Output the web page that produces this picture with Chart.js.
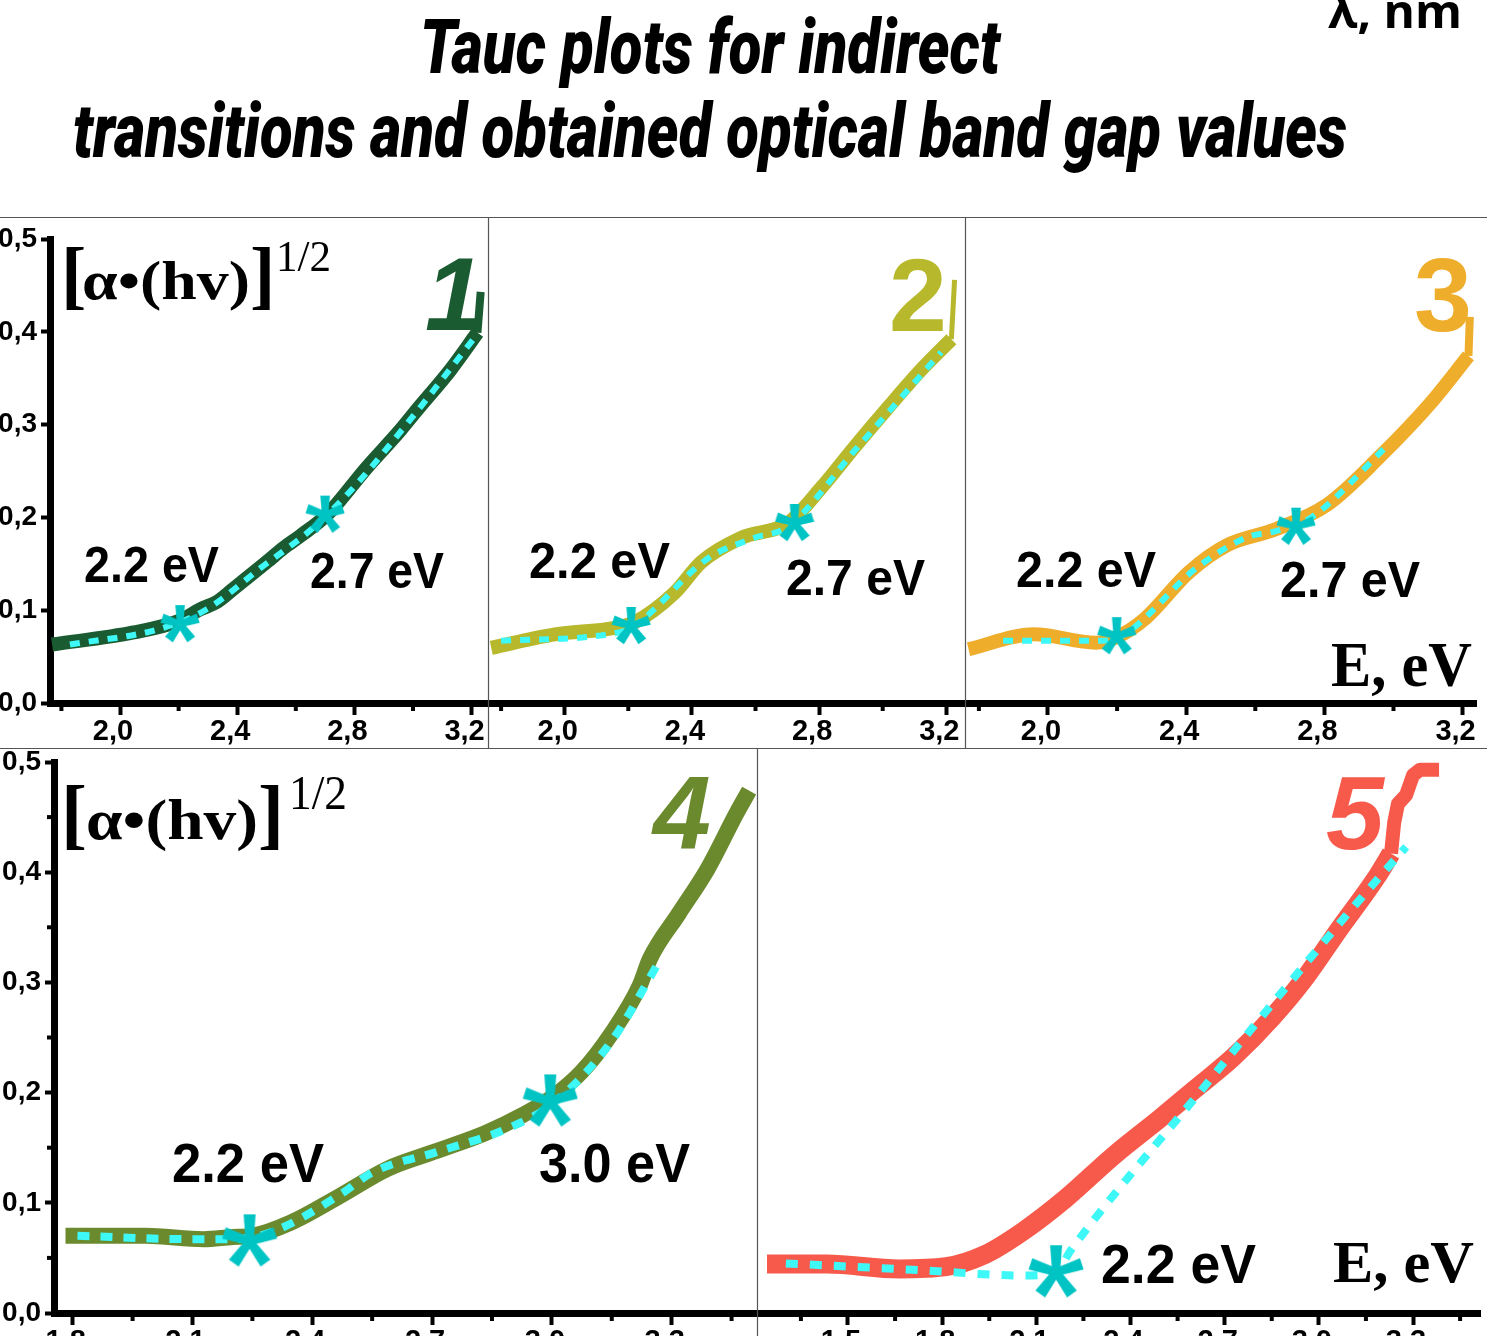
<!DOCTYPE html>
<html><head><meta charset="utf-8">
<script src="https://cdn.jsdelivr.net/npm/chart.js@4.4.1/dist/chart.umd.min.js"></script>
<style>
html,body{margin:0;padding:0;background:#fff;overflow:hidden;width:1505px;height:1336px;}
#wrap{position:relative;width:1505px;height:1336px;overflow:hidden;background:#fff;}
canvas{position:absolute;}
#ov{position:absolute;left:0;top:0;pointer-events:none;}
</style></head><body>
<div id="wrap">
<canvas id="c1"></canvas><canvas id="c2"></canvas><canvas id="c3"></canvas><canvas id="c4"></canvas><canvas id="c5"></canvas>
<svg id="ov" width="1505" height="1336" xmlns="http://www.w3.org/2000/svg">
 <g stroke="#555" stroke-width="1.2">
  <line x1="0" y1="217.5" x2="1487" y2="217.5"/>
  <line x1="488.5" y1="217" x2="488.5" y2="748"/>
  <line x1="965.5" y1="217" x2="965.5" y2="748"/>
  <line x1="0" y1="748.5" x2="1487" y2="748.5"/>
  <line x1="757.5" y1="748" x2="757.5" y2="1336"/>
 </g>
 <g font-family="Roboto, sans-serif" font-weight="900" font-style="italic" font-size="75" fill="#000">
  <text x="420" y="73" textLength="580" lengthAdjust="spacingAndGlyphs">Tauc plots for indirect</text>
  <text x="73" y="157" textLength="1274" lengthAdjust="spacingAndGlyphs">transitions and obtained optical band gap values</text>
 </g>
 <text x="1328" y="28" font-family="Open Sans, sans-serif" font-weight="700" font-size="46" textLength="134" lengthAdjust="spacingAndGlyphs">λ, nm</text>
 <g font-family="Liberation Serif, serif" font-weight="700" fill="#000">
  <text x="61" y="300" font-size="76">[</text>
  <text x="82" y="299" font-size="54" textLength="168" lengthAdjust="spacingAndGlyphs">α•(hv)</text>
  <text x="250" y="300" font-size="76">]</text>
  <text x="276" y="271" font-size="44" font-weight="400" textLength="55" lengthAdjust="spacingAndGlyphs">1/2</text>
  <text x="61" y="839" font-size="78">[</text>
  <text x="86" y="839" font-size="56" textLength="172" lengthAdjust="spacingAndGlyphs">α•(hv)</text>
  <text x="258" y="839" font-size="78">]</text>
  <text x="289" y="809" font-size="48" font-weight="400" textLength="58" lengthAdjust="spacingAndGlyphs">1/2</text>
  <text x="1331" y="686" font-size="64" textLength="141" lengthAdjust="spacingAndGlyphs">E, eV</text>
  <text x="1333" y="1282" font-size="60" textLength="141" lengthAdjust="spacingAndGlyphs">E, eV</text>
 </g>
 <g font-family="Liberation Sans, Arial, sans-serif" font-weight="700" fill="#000">
  <text x="84" y="582" font-size="50" textLength="135" lengthAdjust="spacingAndGlyphs">2.2 eV</text>
  <text x="310" y="588" font-size="50" textLength="134" lengthAdjust="spacingAndGlyphs">2.7 eV</text>
  <text x="529" y="578" font-size="50" textLength="141" lengthAdjust="spacingAndGlyphs">2.2 eV</text>
  <text x="786" y="595" font-size="50" textLength="139" lengthAdjust="spacingAndGlyphs">2.7 eV</text>
  <text x="1016" y="587" font-size="50" textLength="140" lengthAdjust="spacingAndGlyphs">2.2 eV</text>
  <text x="1280" y="597" font-size="50" textLength="140" lengthAdjust="spacingAndGlyphs">2.7 eV</text>
  <text x="172" y="1182" font-size="55" textLength="152" lengthAdjust="spacingAndGlyphs">2.2 eV</text>
  <text x="539" y="1182" font-size="55" textLength="151" lengthAdjust="spacingAndGlyphs">3.0 eV</text>
  <text x="1101" y="1283" font-size="55" textLength="155" lengthAdjust="spacingAndGlyphs">2.2 eV</text>
 </g>
 <g font-family="Liberation Sans, Arial, sans-serif" font-weight="700" font-size="104">
  <text x="425" y="330" font-style="italic" fill="#1b5b31">1</text>
  <text x="889" y="331" fill="#b7b82c">2</text>
  <text x="1414" y="331" fill="#efad2c">3</text>
  <text x="653" y="849" font-style="italic" fill="#6b8a2e">4</text>
  <text x="1326" y="849" font-style="italic" fill="#f75a4b">5</text>
 </g>
</svg>
</div>
<script>
// ---------- data ----------
const yTicks = [0, 0.1, 0.2, 0.3, 0.4, 0.5];
const yMinorBottom = [0.05, 0.15, 0.25, 0.35, 0.45];
const xTicksTop = [2.0, 2.4, 2.8, 3.2];
const xMinorTop = [1.8, 2.2, 2.6, 3.0];
const xTicks4 = [1.8, 2.1, 2.4, 2.7, 3.0, 3.3];
const xMinor4 = [1.95, 2.25, 2.55, 2.85, 3.15, 3.45];
const xTicks5 = [1.5, 1.8, 2.1, 2.4, 2.7, 3.0, 3.3];
const xMinor5 = [1.35, 1.65, 1.95, 2.25, 2.55, 2.85, 3.15, 3.45];

// Sample 1
const p1CurveX = [1.768, 2.046, 2.205, 2.274, 2.331, 2.387, 2.501, 2.558, 2.615, 2.707, 2.843, 2.957, 3.014, 3.128, 3.220];
const p1CurveY = [0.063, 0.076, 0.089, 0.101, 0.109, 0.123, 0.152, 0.167, 0.180, 0.203, 0.254, 0.294, 0.316, 0.359, 0.399];
const p1TailX = [3.220, 3.231];
const p1TailY = [0.399, 0.443];
const p1FitX = [1.829, 2.137, 2.296, 2.478, 2.660, 2.785, 2.990, 3.206];
const p1FitY = [0.063, 0.080, 0.101, 0.145, 0.189, 0.228, 0.305, 0.392];
const p1GapX = [2.205, 2.700];
const p1GapY = [0.085, 0.203];

// Sample 2
const p2CurveX = [1.769, 1.969, 2.157, 2.220, 2.346, 2.430, 2.555, 2.702, 2.807, 2.912, 3.016, 3.121, 3.216];
const p2CurveY = [0.0595, 0.074, 0.081, 0.087, 0.119, 0.152, 0.178, 0.194, 0.232, 0.276, 0.318, 0.359, 0.392];
const p2TailX = [3.216, 3.226];
const p2TailY = [0.392, 0.456];
const p2FitX = [1.800, 2.136, 2.209, 2.451, 2.597, 2.702, 2.912, 3.184];
const p2FitY = [0.067, 0.074, 0.081, 0.156, 0.178, 0.190, 0.272, 0.378];
const p2GapX = [2.209, 2.723];
const p2GapY = [0.083, 0.194];

// Sample 3
const p3CurveX = [1.770, 1.959, 2.139, 2.199, 2.278, 2.408, 2.518, 2.657, 2.809, 2.959, 3.107, 3.217];
const p3CurveY = [0.058, 0.074, 0.065, 0.071, 0.090, 0.141, 0.170, 0.187, 0.214, 0.265, 0.323, 0.374];
const p3TailX = [3.217, 3.221];
const p3TailY = [0.374, 0.416];
const p3FitX = [1.870, 2.159, 2.229, 2.428, 2.579, 2.657, 2.758, 2.987];
const p3FitY = [0.067, 0.067, 0.076, 0.145, 0.179, 0.185, 0.199, 0.279];
const p3GapX = [2.199, 2.718];
const p3GapY = [0.072, 0.190];

// Sample 4
const p4CurveX = [1.782, 1.982, 2.128, 2.201, 2.249, 2.346, 2.468, 2.589, 2.711, 2.832, 2.929, 3.002, 3.075, 3.148, 3.220, 3.245, 3.317, 3.390, 3.463, 3.494];
const p4CurveY = [0.070, 0.070, 0.067, 0.069, 0.070, 0.082, 0.106, 0.131, 0.147, 0.163, 0.180, 0.196, 0.219, 0.253, 0.297, 0.321, 0.362, 0.403, 0.454, 0.474];
const p4FitX = [1.812, 2.104, 2.200, 2.298, 2.468, 2.553, 2.711, 2.893, 3.002, 3.148, 3.269];
const p4FitY = [0.070, 0.067, 0.067, 0.0735, 0.107, 0.128, 0.146, 0.168, 0.190, 0.246, 0.319];
const p4GapX = [2.243, 2.996];
const p4GapY = [0.065, 0.192];

// Sample 5
const p5CurveX = [1.242, 1.433, 1.662, 1.812, 1.936, 2.057, 2.194, 2.347, 2.500, 2.605, 2.727, 2.851, 2.956, 3.064, 3.185, 3.230];
const p5CurveY = [0.0445, 0.0445, 0.040, 0.042, 0.053, 0.074, 0.104, 0.143, 0.178, 0.203, 0.232, 0.268, 0.304, 0.348, 0.396, 0.417];
const p5TailX = [3.230, 3.240, 3.252, 3.278, 3.300, 3.322, 3.383];
const p5TailY = [0.417, 0.445, 0.462, 0.470, 0.488, 0.493, 0.493];
const p5FitX = [1.302, 1.723, 2.057, 2.163, 2.210, 2.637, 2.879, 3.109, 3.278];
const p5FitY = [0.045, 0.039, 0.034, 0.037, 0.057, 0.206, 0.290, 0.368, 0.423];
const p5GapX = [2.163];
const p5GapY = [0.037];

// ---------- helpers ----------
const pts = (xs, ys) => xs.map((x, i) => ({x: x, y: ys[i]}));
const fmt = v => Number(v).toFixed(1).replace('.', ',');
const XFONT = {family: 'Liberation Sans, Arial, sans-serif', size: 29, weight: 'bold'};
const YFONT = {family: 'Liberation Sans, Arial, sans-serif', size: 28, weight: 'bold'};

function starImg(size, lw, color) {
  const c = document.createElement('canvas');
  c.width = size; c.height = size;
  const g = c.getContext('2d');
  g.fillStyle = color;
  const cx = size / 2, cy = size / 2, r = size / 2 - 1;
  for (let k = 0; k < 5; k++) {
    const a = (-90 + 72 * k) * Math.PI / 180;
    const nx = -Math.sin(a), ny = Math.cos(a);
    const w0 = lw * 0.4, w1 = lw * 0.6;
    g.beginPath();
    g.moveTo(cx + nx * w0, cy + ny * w0);
    g.lineTo(cx + r * Math.cos(a) + nx * w1, cy + r * Math.sin(a) + ny * w1);
    g.lineTo(cx + r * Math.cos(a) - nx * w1, cy + r * Math.sin(a) - ny * w1);
    g.lineTo(cx - nx * w0, cy - ny * w0);
    g.closePath();
    g.fill();
  }
  g.beginPath(); g.arc(cx, cy, lw * 0.55, 0, Math.PI * 2); g.fill();
  return c;
}

const minorTicks = {
  id: 'minorTicks',
  afterDraw(chart, args, opts) {
    const ctx = chart.ctx, area = chart.chartArea;
    ctx.save();
    ctx.strokeStyle = '#000';
    ctx.lineWidth = 4;
    (opts.x || []).forEach(v => {
      const px = chart.scales.x.getPixelForValue(v);
      ctx.beginPath(); ctx.moveTo(px, area.bottom); ctx.lineTo(px, area.bottom + opts.xLen); ctx.stroke();
    });
    (opts.y || []).forEach(v => {
      const py = chart.scales.y.getPixelForValue(v);
      ctx.beginPath(); ctx.moveTo(area.left, py); ctx.lineTo(area.left - opts.yLen, py); ctx.stroke();
    });
    ctx.restore();
  }
};

function panel(o) {
  const cv = document.getElementById(o.id);
  const padL = o.showY ? 80 : 14, padR = 30, padT = 34, padB = 80;
  const yW = o.showY ? 60 : 0, xH = 50;
  const W = o.R - o.L + padL + padR, H = o.B - o.T + padT + padB;
  cv.width = W; cv.height = H;
  cv.style.left = (o.L - padL) + 'px';
  cv.style.top = (o.T - padT) + 'px';
  cv.style.width = W + 'px'; cv.style.height = H + 'px';
  const star = starImg(o.starSize, o.starLw, '#00c4c4');
  const datasets = [
    {data: pts(o.gx, o.gy), showLine: false, pointStyle: star, pointRadius: 10, order: 1, clip: false},
    {data: pts(o.fx, o.fy), borderColor: '#3ef8f8', borderWidth: o.dashW, borderDash: o.dash,
     pointRadius: 0, cubicInterpolationMode: 'monotone', order: 2, clip: false, borderCapStyle: 'butt'},
    {data: pts(o.cx, o.cy), borderColor: o.color, borderWidth: o.lineW, pointRadius: 0,
     cubicInterpolationMode: 'monotone', order: 3, clip: false, borderJoinStyle: 'round'}
  ];
  if (o.tx) {
    datasets.push({data: pts(o.tx, o.ty), borderColor: o.color, borderWidth: o.tailW, pointRadius: 0,
      tension: 0, order: 4, clip: false, borderJoinStyle: 'round'});
  }
  new Chart(cv, {
    type: 'line',
    data: {datasets: datasets},
    options: {
      responsive: false, animation: false, events: [], devicePixelRatio: 1,
      layout: {padding: {left: padL - yW, right: padR, top: padT, bottom: padB - xH}},
      plugins: {legend: {display: false}, tooltip: {enabled: false},
        minorTicks: {x: o.xMinor, xLen: 8, y: o.yMinor || [], yLen: 7}},
      scales: {
        x: {type: 'linear', min: o.xmin, max: o.xmax,
          afterBuildTicks: s => { s.ticks = o.xTicks.map(v => ({value: v})); },
          afterFit: s => { s.height = xH; },
          border: {display: true, width: 7, color: '#000'},
          grid: {display: true, drawOnChartArea: false, drawTicks: true, tickLength: 12, tickWidth: 4, tickColor: '#000'},
          ticks: {callback: v => fmt(v), font: XFONT, color: '#000', padding: 0, labelOffset: -7, maxRotation: 0, autoSkip: false}
        },
        y: o.showY ? {type: 'linear', min: 0, max: 0.5,
          afterBuildTicks: s => { s.ticks = yTicks.map(v => ({value: v})); },
          afterFit: s => { s.width = yW; },
          border: {display: true, width: 7, color: '#000'},
          grid: {display: true, drawOnChartArea: false, drawTicks: true, tickLength: 9, tickWidth: 4, tickColor: '#000'},
          ticks: {callback: v => fmt(v), font: YFONT, color: '#000', padding: 4, autoSkip: false}
        } : {type: 'linear', min: 0, max: 0.5, display: false}
      }
    },
    plugins: [minorTicks]
  });
}

panel({id: 'c1', L: 50, R: 488, T: 239, B: 703, xmin: 1.761, xmax: 3.256, showY: true,
  xTicks: xTicksTop, xMinor: xMinorTop, cx: p1CurveX, cy: p1CurveY, fx: p1FitX, fy: p1FitY, gx: p1GapX, gy: p1GapY,
  tx: p1TailX, ty: p1TailY, tailW: 8,
  color: '#1b5b31', lineW: 14, dashW: 6, dash: [10, 9], starSize: 40, starLw: 8});
panel({id: 'c2', L: 488, R: 965, T: 239, B: 703, xmin: 1.7588, xmax: 3.2588, showY: false,
  xTicks: xTicksTop, xMinor: xMinorTop, cx: p2CurveX, cy: p2CurveY, fx: p2FitX, fy: p2FitY, gx: p2GapX, gy: p2GapY,
  tx: p2TailX, ty: p2TailY, tailW: 5,
  color: '#b7b82c', lineW: 14, dashW: 6, dash: [10, 9], starSize: 40, starLw: 8});
panel({id: 'c3', L: 965, R: 1476, T: 239, B: 703, xmin: 1.7598, xmax: 3.2388, showY: false,
  xTicks: xTicksTop, xMinor: xMinorTop, cx: p3CurveX, cy: p3CurveY, fx: p3FitX, fy: p3FitY, gx: p3GapX, gy: p3GapY,
  tx: p3TailX, ty: p3TailY, tailW: 8,
  color: '#efad2c', lineW: 14, dashW: 6, dash: [10, 9], starSize: 40, starLw: 8});
panel({id: 'c4', L: 54, R: 757, T: 762, B: 1313, xmin: 1.7532, xmax: 3.5137, showY: true, yMinor: yMinorBottom,
  xTicks: xTicks4, xMinor: xMinor4, cx: p4CurveX, cy: p4CurveY, fx: p4FitX, fy: p4FitY, gx: p4GapX, gy: p4GapY,
  color: '#6b8a2e', lineW: 16, dashW: 8, dash: [12, 11], starSize: 56, starLw: 10});
panel({id: 'c5', L: 757, R: 1480, T: 762, B: 1313, xmin: 1.2101, xmax: 3.5134, showY: false,
  xTicks: xTicks5, xMinor: xMinor5, cx: p5CurveX, cy: p5CurveY, fx: p5FitX, fy: p5FitY, gx: p5GapX, gy: p5GapY,
  tx: p5TailX, ty: p5TailY, tailW: 14,
  color: '#f75a4b', lineW: 19, dashW: 8, dash: [12, 12], starSize: 56, starLw: 10});
</script>
</body></html>
